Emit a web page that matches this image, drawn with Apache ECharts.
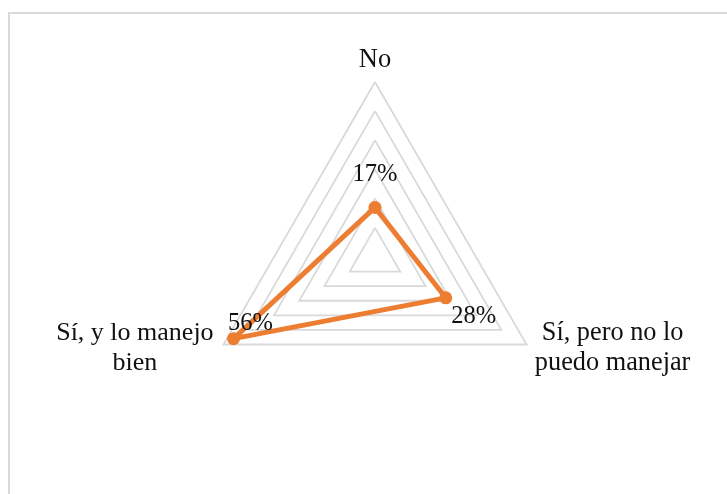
<!DOCTYPE html>
<html>
<head>
<meta charset="utf-8">
<script src="https://cdn.jsdelivr.net/npm/echarts@6/dist/echarts.min.js"></script>
<style>
html,body{margin:0;padding:0;background:#fff;}
#frame{position:absolute;left:8px;top:12px;width:760px;height:520px;border-left:2px solid #D9D9D9;border-top:2px solid #D9D9D9;}
#chart{position:absolute;left:0;top:0;width:727px;height:494px;}
</style>
</head>
<body>
<div id="frame"></div>
<div id="chart"></div>
<script>
// Data
const categories = ['No', 'Sí, y lo manejo\nbien', 'Sí, pero no lo\npuedo manejar'];
const values = [17, 56, 28];
const maxValue = 60;
const tickStep = 10;

// label shifts (per vertex, in indicator order) as rich padding keys
const labelKeys = ['t', 'l', 'r'];
const nameKeys = ['top', 'left', 'right'];

const chart = echarts.init(document.getElementById('chart'));
const font = '"Liberation Serif", "Times New Roman", serif';

chart.setOption({
  animation: false,
  radar: {
    center: [375, 257],
    radius: 175,
    startAngle: 90,
    shape: 'polygon',
    splitNumber: maxValue / tickStep,
    indicator: categories.map(c => ({ name: c, min: 0, max: maxValue })),
    nameGap: 7,
    axisName: {
      color: '#111',
      fontFamily: font,
      fontSize: 26,
      formatter: function (name) {
        const i = categories.indexOf(name);
        return '{' + nameKeys[i] + '|' + name + '}';
      },
      rich: {
        top: { fontFamily: font, fontSize: 26.5, lineHeight: 30, color: '#111', align: 'center' },
        left: { fontFamily: font, fontSize: 26, lineHeight: 30.5, color: '#111', width: 165, align: 'center' },
        right: { fontFamily: font, fontSize: 26.3, lineHeight: 30.5, color: '#111', width: 160, align: 'center' }
      }
    },
    splitLine: { lineStyle: { color: '#D9D9D9', width: 1.8 } },
    splitArea: { show: false },
    axisLine: { show: false },
    axisTick: { show: false },
    axisLabel: { show: false }
  },
  series: [{
    type: 'radar',
    symbol: 'circle',
    symbolSize: 13,
    lineStyle: { color: '#ED7D31', width: 5 },
    itemStyle: { color: '#ED7D31' },
    z: 2,
    label: {
      show: true,
      position: 'inside',
      formatter: function (p) {
        const i = values.indexOf(p.value);
        return '{' + labelKeys[i] + '|' + p.value + '%}';
      },
      rich: {
        t: { fontFamily: font, fontSize: 24.5, color: '#111', padding: [0, 0, 66, 0] },
        r: { fontFamily: font, fontSize: 24.5, color: '#111', padding: [38, 0, 0, 56] },
        l: { fontFamily: font, fontSize: 24.5, color: '#111', padding: [0, 0, 30, 34] }
      }
    },
    data: [{ value: values, name: 'Serie' }]
  }]
});
</script>
</body>
</html>
